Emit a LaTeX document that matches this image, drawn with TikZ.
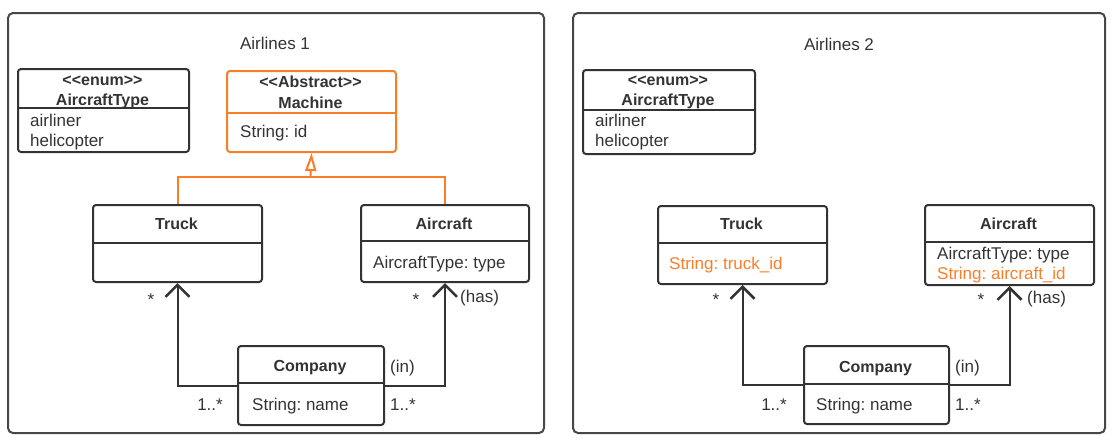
\documentclass[tikz,border=0pt]{standalone}
\usepackage{fontspec}
\setmainfont{Liberation Sans}
\usetikzlibrary{arrows.meta}
\definecolor{ink}{HTML}{333333}
\definecolor{orng}{RGB}{250,125,40}
\frenchspacing
\tikzset{
  frame/.style={draw=ink!90, line width=2pt, rounded corners=5pt},
  cls/.style={draw=ink, line width=2pt, rounded corners=3pt, anchor=north west, inner sep=0pt},
  acls/.style={cls, draw=orng},
  txt/.style={font=\fontsize{17}{20}\selectfont, text=ink, inner sep=0pt},
  ttl/.style={txt, font=\fontsize{16}{19}\selectfont\bfseries, anchor=base},
  attr/.style={txt, anchor=base west},
  lbl/.style={txt, anchor=base},
  divl/.style={draw=ink, line width=2pt},
  gen/.style={draw=orng, line width=2pt},
  assoc/.style={draw=ink, line width=2pt, -{Straight Barb[length=12pt, width=24pt, line width=2.5pt]}},
}
\begin{document}
\begin{tikzpicture}[x=1pt, y=-1pt]
\useasboundingbox (0,0) rectangle (1118,445);
% frames
\node[frame, anchor=north west, minimum width=536pt, minimum height=420pt, inner sep=0pt] (F1) at (7,12) {};
\node[frame, anchor=north west, minimum width=532pt, minimum height=420pt, inner sep=0pt] (F2) at (572,12) {};
\node[lbl] (t1) at (275,49) {Airlines 1};
\node[lbl] (t2) at (839,50) {Airlines 2};

% ===== Airlines 1 =====
\node[cls, minimum width=171pt, minimum height=83pt] (E1) at (17,68) {};
\draw[divl] (17,108) -- (188,108);
\node[ttl] (E1a) at (102.5,85) {<{}<enum>{}>};
\node[ttl] (E1b) at (102.5,105) {AircraftType};
\node[attr] (E1c) at (30,126) {airliner};
\node[attr] (E1d) at (30,146) {helicopter};

\node[acls, minimum width=169pt, minimum height=81pt] (M) at (226,70) {};
\draw[gen] (226,113) -- (395,113);
\node[ttl] (Ma) at (310.5,87) {<{}<Abstract>{}>};
\node[ttl] (Mb) at (310.5,108) {Machine};
\node[attr] (Mc) at (240,137) {String: id};

\node[cls, minimum width=169pt, minimum height=77pt] (T1) at (92,204) {};
\draw[divl] (92,243) -- (261,243);
\node[ttl] (T1a) at (176.5,229) {Truck};

\node[cls, minimum width=168pt, minimum height=77pt] (A1) at (360,204) {};
\draw[divl] (360,241) -- (528,241);
\node[ttl] (A1a) at (444,229) {Aircraft};
\node[attr] (A1b) at (373,268) {AircraftType: type};

\node[cls, minimum width=146pt, minimum height=79pt] (C1) at (237,345) {};
\draw[divl] (237,383) -- (383,383);
\node[ttl] (C1a) at (310,371) {Company};
\node[attr] (C1b) at (252,410) {String: name};

\coordinate (J1) at (310.5,177);
\draw[gen] (T1.north) |- (J1) -| (A1.north);
\draw[gen, -{Triangle[open, length=18pt, width=11pt, line width=2pt]}] (J1) -- (M.south);

\draw[assoc] (C1.west) -| (T1.south);
\draw[assoc] (C1.east) -| (A1.south);
\node[lbl] (s1) at (151,305) {*};
\node[lbl] (s2) at (416,305) {*};
\node[attr] (h1) at (460,302) {(has)};
\node[attr] (i1) at (390,372) {(in)};
\node[txt, anchor=base east] (m1) at (223,410) {1..*};
\node[attr] (m2) at (390,410) {1..*};

% ===== Airlines 2 =====
\node[cls, minimum width=172pt, minimum height=84pt] (E2) at (582,69) {};
\draw[divl] (582,110) -- (754,110);
\node[ttl] (E2a) at (668,85) {<{}<enum>{}>};
\node[ttl] (E2b) at (668,105) {AircraftType};
\node[attr] (E2c) at (595,126) {airliner};
\node[attr] (E2d) at (595,146) {helicopter};

\node[cls, minimum width=169pt, minimum height=78pt] (T2) at (657,205) {};
\draw[divl] (657,243) -- (826,243);
\node[ttl] (T2a) at (741.5,229) {Truck};
\node[attr, text=orng] (T2b) at (669,269) {String: truck\_id};

\node[cls, minimum width=169pt, minimum height=80pt] (A2) at (924,204) {};
\draw[divl] (924,242) -- (1093,242);
\node[ttl] (A2a) at (1008.5,229) {Aircraft};
\node[attr] (A2b) at (937,259) {AircraftType: type};
\node[attr, text=orng] (A2c) at (937,279) {String: aircraft\_id};

\node[cls, minimum width=145pt, minimum height=78pt] (C2) at (803,345) {};
\draw[divl] (803,384) -- (948,384);
\node[ttl] (C2a) at (875.5,372) {Company};
\node[attr] (C2b) at (816,410) {String: name};

\draw[assoc] (C2.west) -| (T2.south);
\draw[assoc] (C2.east) -| (A2.south);
\node[lbl] (s3) at (716,305) {*};
\node[lbl] (s4) at (981,305) {*};
\node[attr] (h2) at (1027,303) {(has)};
\node[attr] (i2) at (955,372) {(in)};
\node[txt, anchor=base east] (m3) at (787,410) {1..*};
\node[attr] (m4) at (955,410) {1..*};
\end{tikzpicture}
\end{document}
